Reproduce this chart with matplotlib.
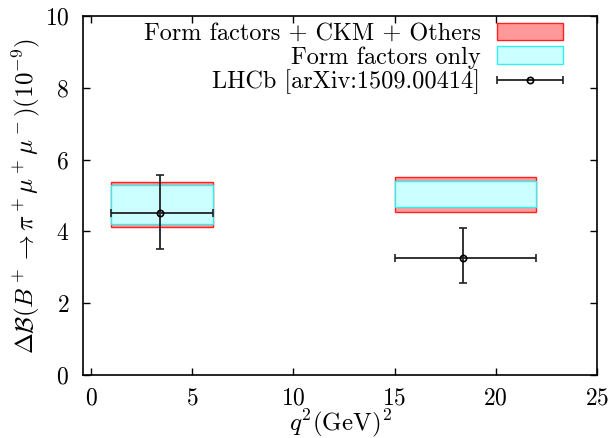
import matplotlib
matplotlib.use("Agg")
import matplotlib.pyplot as plt
from matplotlib.legend_handler import HandlerErrorbar

# q^2 bins (GeV^2)
bin_lo = [1.0, 15.0]
bin_hi = [6.0, 22.0]

# prediction bands (10^-9)
total_lo = [4.12, 4.55]
total_hi = [5.38, 5.52]
ff_lo = [4.20, 4.68]
ff_hi = [5.30, 5.40]

# LHCb measurement
lhcb_x = [3.4, 18.4]
lhcb_y = [4.52, 3.27]
lhcb_err_lo = [1.01, 0.70]
lhcb_err_hi = [1.05, 0.83]

plt.rcParams.update({
    "font.family": "serif",
    "font.serif": ["cmr10", "DejaVu Serif"],
    "mathtext.fontset": "cm",
    "axes.formatter.use_mathtext": True,
    "font.size": 17,
})

fig = plt.figure(figsize=(6.11, 4.38), dpi=100)
ax = fig.add_axes([0.136, 0.144, 0.841, 0.819])

widths = [h - l for l, h in zip(bin_lo, bin_hi)]
tot = ax.bar(bin_lo, [h - l for l, h in zip(total_lo, total_hi)], width=widths,
             bottom=total_lo, align="edge", color="#ff9999", edgecolor="#ff2020",
             linewidth=1.0, label="Form factors + CKM + Others", zorder=2)
ff = ax.bar(bin_lo, [h - l for l, h in zip(ff_lo, ff_hi)], width=widths,
            bottom=ff_lo, align="edge", color="#ccffff", edgecolor="#30f0f0",
            linewidth=1.0, label="Form factors only", zorder=3)

xerr_lo = [x - l for x, l in zip(lhcb_x, bin_lo)]
xerr_hi = [h - x for x, h in zip(lhcb_x, bin_hi)]
eb = ax.errorbar(lhcb_x, lhcb_y, xerr=[xerr_lo, xerr_hi],
                 yerr=[lhcb_err_lo, lhcb_err_hi],
                 fmt="o", ms=4.5, mfc="none", mec="black", mew=1.2,
                 ecolor="#222222", elinewidth=1.3, capsize=3, capthick=1.2,
                 color="black", label="LHCb [arXiv:1509.00414]", zorder=4)

ax.set_xlim(-0.4, 25)
ax.set_ylim(0, 10)
ax.set_xticks([0, 5, 10, 15, 20, 25])
ax.set_yticks([0, 2, 4, 6, 8, 10])
ax.tick_params(direction="in", top=True, right=True, length=5, width=1,
               labelsize=17)
ax.tick_params(axis="x", pad=9)
ax.tick_params(axis="y", pad=10)
for s in ax.spines.values():
    s.set_linewidth(1.2)

ax.set_xlabel(r"$q^2(\mathrm{GeV})^2$", fontsize=18, labelpad=-2)
ax.set_ylabel(r"$\Delta\mathcal{B}(B^+\to\pi^+\mu^+\mu^-)(10^{-9})$",
              fontsize=18, labelpad=2)

hl = 2.7
ax.legend(handles=[tot, ff, eb], loc="upper right", bbox_to_anchor=(0.934, 0.982),
          frameon=False, markerfirst=False, handlelength=hl, handleheight=0.7,
          labelspacing=0.05, borderaxespad=0.0, handletextpad=0.7,
          borderpad=0.0, fontsize=17.5,
          handler_map={type(eb): HandlerErrorbar(xerr_size=hl / 2, yerr_size=0.0)})

fig.savefig("out.png", dpi=100)
